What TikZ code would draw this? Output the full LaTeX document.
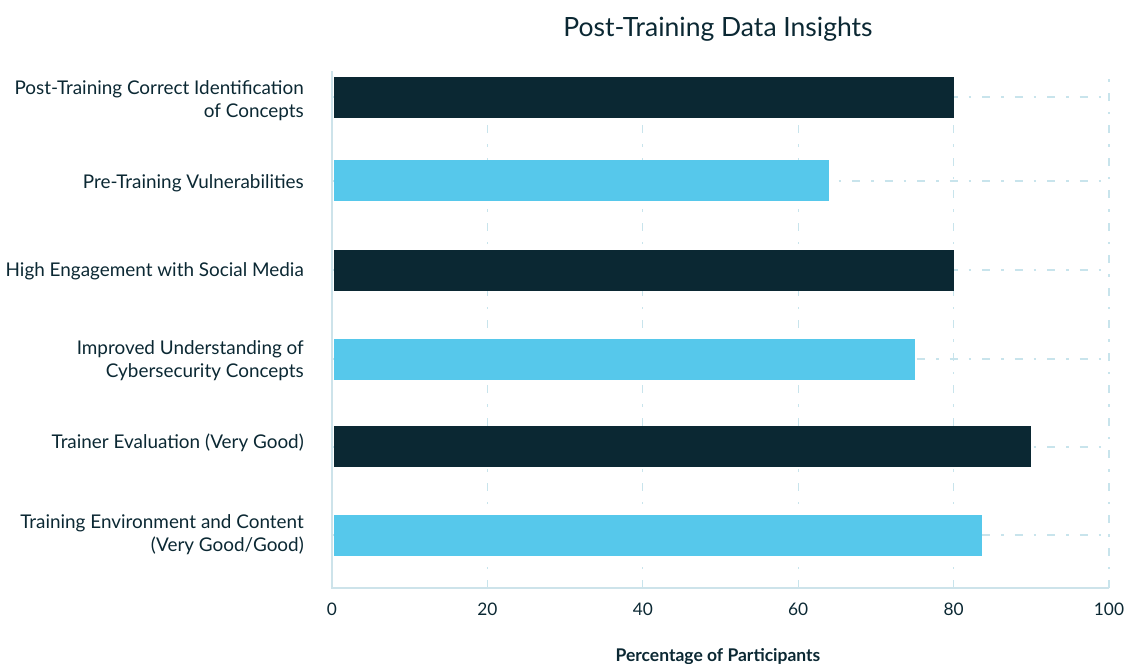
\documentclass[tikz,border=0pt]{standalone}
\usepackage{fontspec}
\setmainfont{Lato}
\definecolor{darkbar}{HTML}{0B2833}
\definecolor{lightbar}{HTML}{56C8EB}
\definecolor{gridc}{HTML}{C8E4EC}
\definecolor{axisc}{HTML}{CDE3EA}
\definecolor{txt}{HTML}{0B2833}
\tikzset{
  gridline/.style={draw=gridc, line width=1.2pt, dash pattern=on 8pt off 11pt on 2.5pt off 11pt},
  axisline/.style={draw=axisc, line width=2.5pt},
  darkfill/.style={fill=darkbar, draw=none},
  lightfill/.style={fill=lightbar, draw=none},
  catlabel/.style={anchor=east, align=right, text=txt, font=\fontsize{18.9}{23}\selectfont, inner sep=0pt},
  ticklabel/.style={anchor=center, text=txt, font=\fontsize{17.3}{20}\selectfont, inner sep=0pt},
  titlelabel/.style={anchor=center, text=txt, font=\fontsize{26.5}{30}\selectfont, inner sep=0pt},
  axistitle/.style={anchor=center, text=txt, font=\bfseries\fontsize{17.5}{20}\selectfont, inner sep=0pt}
}
\begin{document}
\begin{tikzpicture}[x=1pt,y=-1pt]
\useasboundingbox (0,0) rectangle (1128,664);
\coordinate (o) at (332,588);
\foreach \v/\n in {0/0,20/1,40/2,60/3,80/4,100/5}{
  \coordinate (gt\n) at ({332+7.77*\v},72);
  \coordinate (gb\n) at ({332+7.77*\v},588);
}
% vertical grid
\foreach \n in {1,2,3,4,5}{ \draw[gridline] (gb\n) -- (gt\n); }
% horizontal grid at category centers
\foreach \yy/\n in {97/1,181/2,270/3,359/4,447/5,535/6}{
  \coordinate (hl\n) at (332,\yy);
  \coordinate (hr\n) at (1109,\yy);
  \draw[gridline] (hl\n) -- (hr\n);
}
% bars
\fill[darkfill] (334,77) rectangle ({332+7.77*80},118);
\fill[lightfill] (334,160) rectangle ({332+7.77*64},201);
\fill[darkfill] (334,250) rectangle ({332+7.77*80},291);
\fill[lightfill] (334,339) rectangle ({332+7.77*75},380);
\fill[darkfill] (334,426) rectangle ({332+7.77*90},467);
\fill[lightfill] (334,515) rectangle ({332+7.77*83.6},556);
% axes
\coordinate (at) at (332,71);
\coordinate (ar) at (1109,588);
\draw[axisline] (at) -- (o) -- (ar);
% tick labels
\foreach \v/\n in {0/0,20/1,40/2,60/3,80/4,100/5}{
  \node[ticklabel] (tl\n) at ({332+7.77*\v},609) {\v};
}
% category labels
\node[catlabel] (c1) at (304,101) {Post-Training Correct Identification\\of Concepts};
\node[catlabel] (c2) at (304,183) {Pre-Training Vulnerabilities};
\node[catlabel] (c3) at (304,271) {High Engagement with Social Media};
\node[catlabel] (c4) at (304,361) {Improved Understanding of\\Cybersecurity Concepts};
\node[catlabel] (c5) at (304,443) {Trainer Evaluation (Very Good)};
\node[catlabel] (c6) at (304,535) {Training Environment and Content\\(Very Good/Good)};
% titles
\node[titlelabel] (title) at (718,29) {Post-Training Data Insights};
\node[axistitle] (xt) at (718,657) {Percentage of Participants};
\end{tikzpicture}
\end{document}
